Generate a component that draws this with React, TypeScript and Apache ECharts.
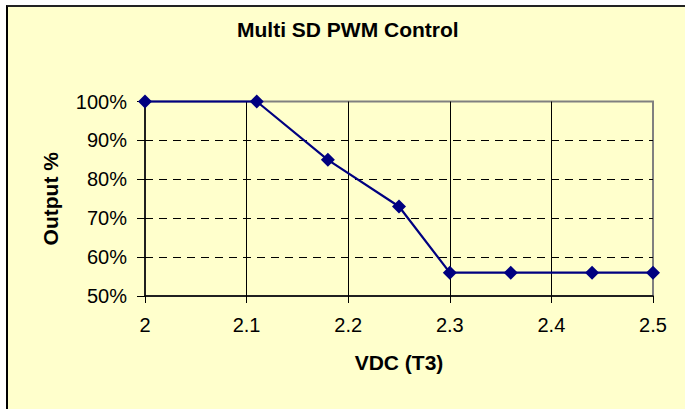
import React, { useEffect, useRef } from "react";
import * as echarts from "echarts";

const titleText = "Multi SD PWM Control";
const xAxisName = "VDC (T3)";
const yAxisName = "Output %";
const vdcValues = [2.0, 2.11, 2.18, 2.25, 2.3, 2.36, 2.44, 2.5];
const outputPercent = [100, 100, 85, 73, 56, 56, 56, 56];

const FONT = "'Liberation Sans', Arial, sans-serif";

export default function App() {
  const ref = useRef<HTMLDivElement>(null);

  useEffect(() => {
    if (!ref.current) return;
    const chart = echarts.init(ref.current, null, { renderer: "svg" });
    const data = vdcValues.map((x, i) => [x, outputPercent[i]]);
    chart.setOption({
      animation: false,
      backgroundColor: "transparent",
      textStyle: { fontFamily: FONT },
      title: {
        text: titleText,
        left: 237,
        top: 19,
        padding: 0,
        textStyle: { fontFamily: FONT, fontSize: 21, fontWeight: "bold", color: "#000" },
      },
      grid: {
        left: 145,
        right: 32,
        top: 101.5,
        bottom: 113,
        show: true,
        borderColor: "#808080",
        borderWidth: 2,
        backgroundColor: "transparent",
      },
      xAxis: {
        type: "value",
        min: 2,
        max: 2.5,
        interval: 0.1,
        name: xAxisName,
        nameLocation: "middle",
        nameGap: 56,
        nameTextStyle: { fontFamily: FONT, fontSize: 21, fontWeight: "bold", color: "#000" },
        axisLine: { show: true, lineStyle: { color: "#000", width: 1.5 } },
        axisTick: { show: true, length: 7, lineStyle: { color: "#000", width: 1 } },
        axisLabel: {
          margin: 19,
          fontFamily: FONT,
          fontSize: 20,
          color: "#000",
          formatter: (v: number) => String(Math.round(v * 10) / 10),
        },
        splitLine: {
          show: true,
          showMinLine: false,
          showMaxLine: false,
          lineStyle: { color: "#000", width: 1, type: "solid" },
        },
      },
      yAxis: {
        type: "value",
        min: 50,
        max: 100,
        interval: 10,
        name: yAxisName,
        nameLocation: "middle",
        nameGap: 84,
        nameTextStyle: { fontFamily: FONT, fontSize: 21, fontWeight: "bold", color: "#000" },
        axisLine: { show: true, lineStyle: { color: "#000", width: 1.5 } },
        axisTick: { show: true, length: 8, lineStyle: { color: "#000", width: 1 } },
        axisLabel: {
          margin: 18,
          fontFamily: FONT,
          fontSize: 20,
          color: "#000",
          formatter: "{value}%",
        },
        splitLine: {
          show: true,
          showMinLine: false,
          showMaxLine: false,
          lineStyle: { color: "#000", width: 1, type: [8, 6] },
        },
      },
      series: [
        {
          type: "line",
          data,
          symbol: "diamond",
          symbolSize: 14,
          lineStyle: { color: "#000080", width: 2.2 },
          itemStyle: { color: "#000080" },
          z: 5,
          clip: false,
        },
      ],
    });
    return () => chart.dispose();
  }, []);

  return (
    <div
      style={{
        position: "fixed",
        left: 0,
        top: 0,
        width: 685,
        height: 409,
        overflow: "hidden",
        background: "#fff",
      }}
    >
      <div
        style={{
          position: "absolute",
          left: 6,
          top: 5,
          width: 720,
          height: 440,
          background: "#FFFFCC",
          borderLeft: "2px solid #000",
          borderTop: "2px solid #222",
          boxSizing: "border-box",
        }}
      />
      <div ref={ref} style={{ position: "absolute", left: 0, top: 0, width: 685, height: 409 }} />
    </div>
  );
}
